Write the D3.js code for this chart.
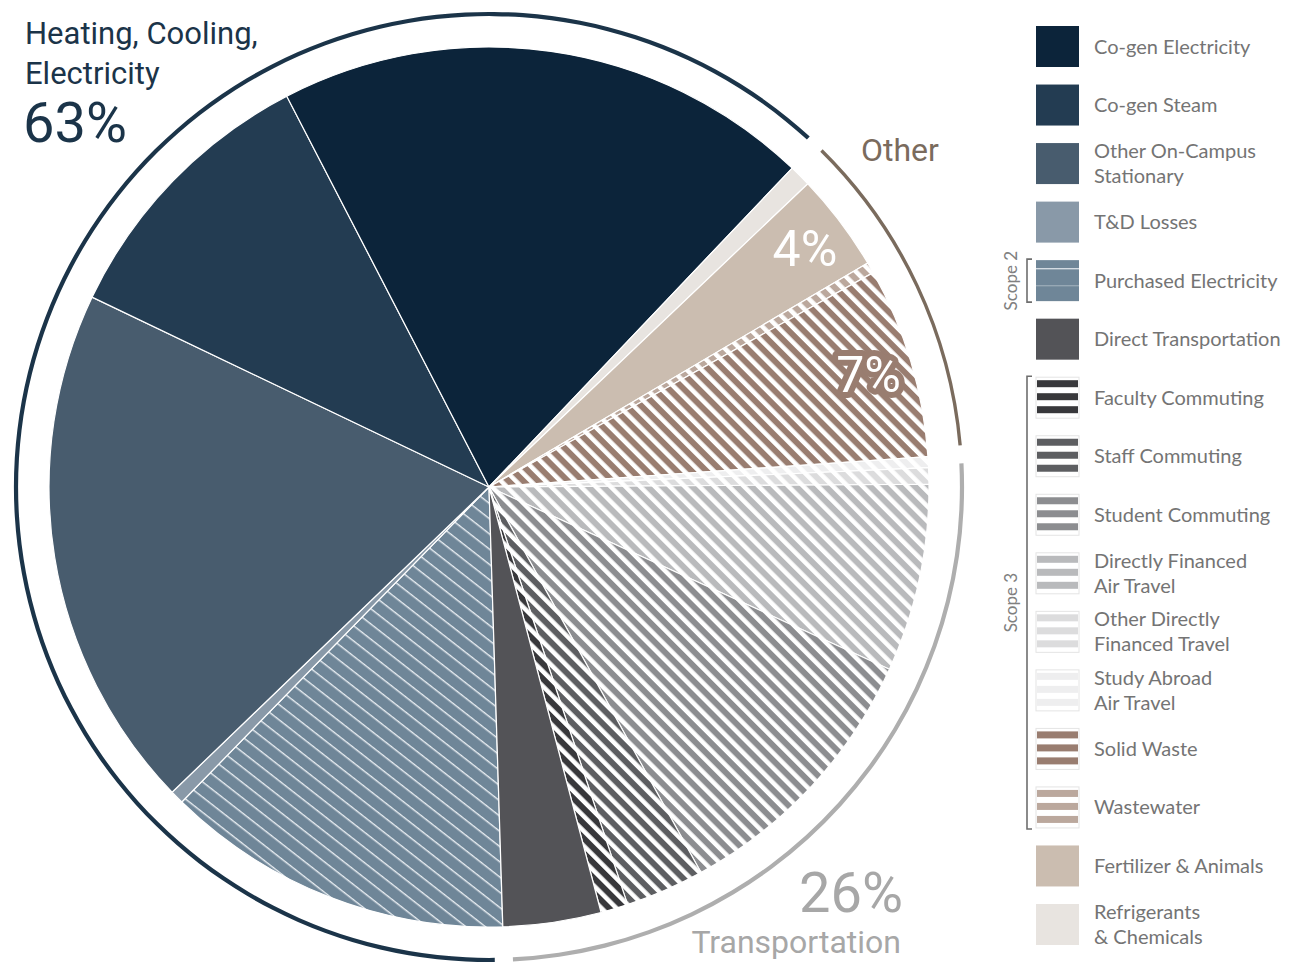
<!DOCTYPE html>
<html>
<head>
<meta charset="utf-8">
<script src="https://cdn.jsdelivr.net/npm/d3@7/dist/d3.min.js"></script>
<style>
  html, body { margin: 0; padding: 0; background: #ffffff; }
  svg { display: block; }
</style>
</head>
<body>
<svg id="chart" width="1291" height="963"></svg>
<script>
// Emission sources, in legend order
const categories = [
  "Co-gen Electricity", "Co-gen Steam", "Other On-Campus Stationary", "T&D Losses",
  "Purchased Electricity", "Direct Transportation", "Faculty Commuting", "Staff Commuting",
  "Student Commuting", "Directly Financed Air Travel", "Other Directly Financed Travel",
  "Study Abroad Air Travel", "Solid Waste", "Wastewater", "Fertilizer & Animals",
  "Refrigerants & Chemicals"
];
// Share of total emissions, percent
const values = [19.7, 10.3, 19.3, 0.5, 12.8, 3.6, 1.0, 2.9, 10.2, 6.9, 0.6, 0.4, 7.0, 0.4, 3.6, 0.8];
const groupOf = [
  "heat", "heat", "heat", "heat", "heat",
  "transport", "transport", "transport", "transport", "transport", "transport", "transport",
  "other", "other", "other", "other"
];
const legendLines = [
  ["Co-gen Electricity"], ["Co-gen Steam"], ["Other On-Campus", "Stationary"], ["T&D Losses"],
  ["Purchased Electricity"], ["Direct Transportation"], ["Faculty Commuting"], ["Staff Commuting"],
  ["Student Commuting"], ["Directly Financed", "Air Travel"], ["Other Directly", "Financed Travel"],
  ["Study Abroad", "Air Travel"], ["Solid Waste"], ["Wastewater"], ["Fertilizer & Animals"],
  ["Refrigerants", "& Chemicals"]
];
// Clockwise order of the wedges around the pie
const sliceOrder = [
  "Purchased Electricity", "T&D Losses", "Other On-Campus Stationary", "Co-gen Steam",
  "Co-gen Electricity", "Refrigerants & Chemicals", "Fertilizer & Animals", "Wastewater",
  "Solid Waste", "Study Abroad Air Travel", "Other Directly Financed Travel",
  "Directly Financed Air Travel", "Student Commuting", "Staff Commuting",
  "Faculty Commuting", "Direct Transportation"
];
const groupKeys = ["heat", "other", "transport"];
const groupLabels = { heat: ["Heating, Cooling,", "Electricity"], other: ["Other"], transport: ["Transportation"] };
const labelledSlices = ["Fertilizer & Animals", "Solid Waste"];

// Styling
const colors = {
  "Co-gen Electricity": "#0c243a", "Co-gen Steam": "#233c52", "Other On-Campus Stationary": "#485c6e",
  "T&D Losses": "#8999a8", "Purchased Electricity": "#6f8698", "Direct Transportation": "#535357",
  "Faculty Commuting": "#38383b", "Staff Commuting": "#5d5e61", "Student Commuting": "#8c8d90",
  "Directly Financed Air Travel": "#b9babc", "Other Directly Financed Travel": "#dcdcdd",
  "Study Abroad Air Travel": "#eeeeef", "Solid Waste": "#997d70", "Wastewater": "#bba89d",
  "Fertilizer & Animals": "#cbbdb0", "Refrigerants & Chemicals": "#e8e4e0"
};
const fillKind = {
  "Purchased Electricity": "lines",
  "Faculty Commuting": "stripe", "Staff Commuting": "stripe", "Student Commuting": "stripe",
  "Directly Financed Air Travel": "stripe", "Other Directly Financed Travel": "stripe",
  "Study Abroad Air Travel": "stripe", "Solid Waste": "stripe", "Wastewater": "stripe"
};
const groupColor = { heat: "#1b3449", other: "#7a6b5d", transport: "#aeaeae" };
const titleFont = "Roboto, 'DejaVu Sans', sans-serif";
const legendFont = "Lato, 'Open Sans', sans-serif";

const svg = d3.select("#chart");
const defs = svg.append("defs");
const cx = 489, cy = 487, R = 440, ringR = 473;
const idOf = name => "p" + categories.indexOf(name);

// Fill patterns for hatched wedges
categories.forEach(name => {
  const kind = fillKind[name];
  if (!kind) return;
  if (kind === "lines") {
    const p = defs.append("pattern").attr("id", idOf(name)).attr("patternUnits", "userSpaceOnUse")
      .attr("width", 12).attr("height", 12).attr("patternTransform", "rotate(38)");
    p.append("rect").attr("width", 12).attr("height", 12).attr("fill", colors[name]);
    p.append("rect").attr("y", 0).attr("width", 12).attr("height", 1.4).attr("fill", "#e9eef2");
  } else {
    const p = defs.append("pattern").attr("id", idOf(name)).attr("patternUnits", "userSpaceOnUse")
      .attr("width", 10.5).attr("height", 10.5).attr("patternTransform", "rotate(45)");
    p.append("rect").attr("width", 10.5).attr("height", 10.5).attr("fill", "#ffffff");
    p.append("rect").attr("width", 10.5).attr("height", 6).attr("fill", colors[name]);
  }
});
const fillOf = name => fillKind[name] ? `url(#${idOf(name)})` : colors[name];

const rows = sliceOrder.map(name => {
  const i = categories.indexOf(name);
  return { name, value: values[i], group: groupOf[i] };
});
const total = d3.sum(values);
const pct = d3.format(".0%");

const pieStart = 178.2 / 180 * Math.PI;
const pie = d3.pie().value(d => d.value).sort(null)
  .startAngle(pieStart).endAngle(pieStart + 2 * Math.PI);
const arcs = pie(rows);
const arc = d3.arc().innerRadius(0).outerRadius(R);

const g = svg.append("g").attr("transform", `translate(${cx},${cy})`);
g.selectAll("path.slice").data(arcs).join("path")
  .attr("class", "slice")
  .attr("d", arc)
  .attr("fill", d => fillOf(d.data.name))
  .attr("stroke", "#ffffff").attr("stroke-width", 1.2).attr("stroke-linejoin", "round");

// Value labels inside wedges
const labelArc = d3.arc().innerRadius(396).outerRadius(396);
g.selectAll("text.val").data(arcs.filter(d => labelledSlices.includes(d.data.name))).join("text")
  .attr("class", "val")
  .attr("transform", d => `translate(${labelArc.centroid(d)})`)
  .attr("text-anchor", "middle").attr("dy", "0.36em")
  .attr("font-family", titleFont).attr("font-size", 50).attr("font-weight", 400)
  .attr("fill", "#ffffff")
  .attr("stroke", d => fillKind[d.data.name] ? colors[d.data.name] : "none")
  .attr("stroke-width", 12).attr("stroke-linejoin", "round")
  .style("paint-order", "stroke")
  .text(d => pct(d.data.value / total));

// Group rings around the pie
const pad = 1.1 / 180 * Math.PI;
const groupSpans = groupKeys.map(k => {
  const a = arcs.filter(d => d.data.group === k);
  return {
    key: k,
    startAngle: d3.min(a, d => d.startAngle) + pad,
    endAngle: d3.max(a, d => d.endAngle) - pad,
    value: d3.sum(a, d => d.data.value)
  };
});
const ringWidth = { heat: 4.2, other: 3.4, transport: 4.2 };
g.selectAll("path.ring").data(groupSpans).join("path")
  .attr("class", "ring")
  .attr("d", d => d3.arc().innerRadius(ringR - ringWidth[d.key] / 2).outerRadius(ringR + ringWidth[d.key] / 2)(d))
  .attr("fill", d => groupColor[d.key]);

// Group captions
const span = k => groupSpans.find(s => s.key === k);
const heatT = svg.append("g").attr("fill", groupColor.heat).attr("font-family", titleFont);
heatT.append("text").attr("x", 25).attr("y", 44).attr("font-size", 31).text(groupLabels.heat[0]);
heatT.append("text").attr("x", 25).attr("y", 84).attr("font-size", 31).text(groupLabels.heat[1]);
heatT.append("text").attr("x", 23).attr("y", 142).attr("font-size", 56).text(pct(span("heat").value / total));

svg.append("text").attr("x", 861).attr("y", 161)
  .attr("font-family", titleFont).attr("font-size", 32).attr("fill", groupColor.other)
  .text(groupLabels.other[0]);

const trT = svg.append("g").attr("fill", "#a7a7a7").attr("font-family", titleFont).attr("text-anchor", "end");
trT.append("text").attr("x", 903).attr("y", 912).attr("font-size", 56).text(pct(span("transport").value / total));
trT.append("text").attr("x", 901).attr("y", 953).attr("font-size", 32).text(groupLabels.transport[0]);

// Legend
const legendY = d3.scalePoint().domain(categories).range([26, 904]);
const sw = 43, sh = 41, lx = 1036;
const leg = svg.append("g").attr("font-family", legendFont);
const item = leg.selectAll("g.item").data(categories).join("g")
  .attr("class", "item")
  .attr("transform", d => `translate(${lx},${legendY(d)})`);

item.each(function (name) {
  const s = d3.select(this);
  const kind = fillKind[name];
  if (kind === "stripe") {
    s.append("rect").attr("width", sw).attr("height", sh).attr("fill", "#ffffff")
      .attr("stroke", "#e4e4e4").attr("stroke-width", 1);
    s.selectAll("rect.bar").data([3, 16, 29]).join("rect").attr("class", "bar")
      .attr("x", 1).attr("y", d => d).attr("width", sw - 2).attr("height", 7)
      .attr("fill", colors[name]);
  } else if (kind === "lines") {
    s.append("rect").attr("width", sw).attr("height", sh).attr("fill", colors[name]);
    s.selectAll("rect.line").data([8, 25]).join("rect").attr("class", "line")
      .attr("y", d => d).attr("width", sw).attr("height", 1.2).attr("fill", "#e3e9ee").attr("opacity", (d, i) => i ? 0.4 : 1);
  } else {
    s.append("rect").attr("width", sw).attr("height", sh).attr("fill", colors[name]);
  }
  const lines = legendLines[categories.indexOf(name)];
  const t = s.append("text").attr("x", 58).attr("fill", "#747474").attr("font-size", 20);
  lines.forEach((ln, k) => {
    t.append("tspan").attr("x", 58)
      .attr("y", sh / 2 + 7 + (k - (lines.length - 1) / 2) * 25)
      .text(ln);
  });
});

// Scope brackets
const scopes = [
  { label: "Scope 2", from: "Purchased Electricity", to: "Purchased Electricity" },
  { label: "Scope 3", from: "Faculty Commuting", to: "Wastewater" }
];
const bx = 1027;
scopes.forEach(sc => {
  const y0 = legendY(sc.from) - 1, y1 = legendY(sc.to) + sh + 1;
  svg.append("path")
    .attr("d", `M${bx + 5},${y0}H${bx}V${y1}H${bx + 5}`)
    .attr("fill", "none").attr("stroke", "#6e6e6e").attr("stroke-width", 1.6);
  svg.append("text")
    .attr("transform", `translate(${bx - 10},${(y0 + y1) / 2}) rotate(-90)`)
    .attr("text-anchor", "middle")
    .attr("font-family", legendFont).attr("font-size", 17).attr("fill", "#808080")
    .text(sc.label);
});
</script>
</body>
</html>
